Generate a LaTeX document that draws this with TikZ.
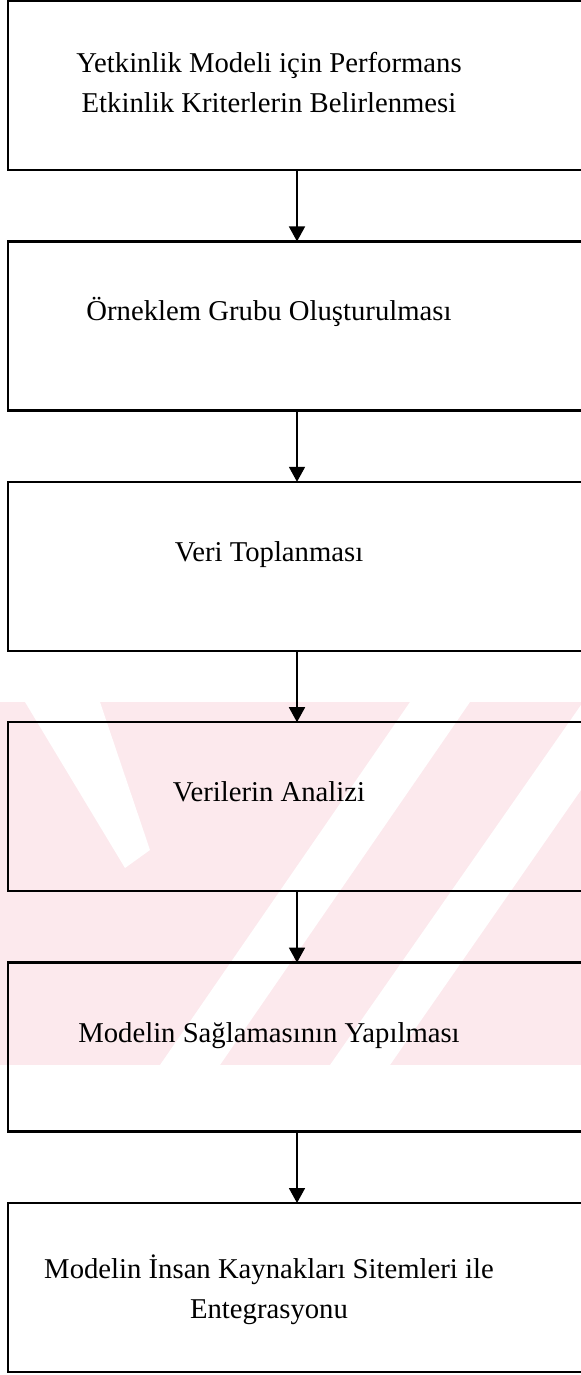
\documentclass[tikz,border=0pt]{standalone}
\usepackage{fontspec}
\setmainfont{Liberation Serif}
\usetikzlibrary{arrows.meta,positioning}

\definecolor{wmpink}{RGB}{252,233,237}

\begin{document}
\begin{tikzpicture}[x=0.5pt,y=-0.5pt,>={Triangle[width=8pt,length=7.5pt]}]
    \tikzset{stepbox/.style= {draw, rectangle, line width=1.2pt, minimum width=289pt, minimum height=84.5pt, inner sep=0pt, outer sep=0pt},
    steptext/.style={align=center, anchor=north, inner sep=0pt, execute at begin node=\strut, font=\fontsize{14.35pt}{20pt}\selectfont},
    }
    \useasboundingbox (0,0) rectangle (581,1375);
    %% faint stripes behind the lower boxes
    \fill[wmpink] (0,702) rectangle (581,1065);
    \fill[white] (25,702) -- (100,702) -- (150,850) -- (125,868) -- cycle;
    \fill[white] (160,1065) -- (220,1065) -- (470,702) -- (410,702) -- cycle;
    \fill[white] (330,1065) -- (390,1065) -- (581,790) -- (581,705) -- cycle;

    \node [stepbox] (criteria) at (297,85.5) {};
    \node [stepbox, below=35.7pt of criteria] (sample) {};
    \node [stepbox, below=35.7pt of sample] (collect) {};
    \node [stepbox, below=35.7pt of collect] (analysis) {};
    \node [stepbox, below=35.7pt of analysis] (check) {};
    \node [stepbox, below=35.7pt of check] (integrate) {};

    %% texts sit near the top of each box
    \node [steptext] (criteriatext) at ([xshift=-14pt,yshift=-25.5pt]criteria.north) {Yetkinlik Modeli için Performans\\Etkinlik Kriterlerin Belirlenmesi};
    \node [steptext] (sampletext) at ([xshift=-14pt,yshift=-25.5pt]sample.north) {Örneklem Grubu Oluşturulması};
    \node [steptext] (collecttext) at ([xshift=-14pt,yshift=-25.5pt]collect.north) {Veri Toplanması};
    \node [steptext] (analysistext) at ([xshift=-14pt,yshift=-25.5pt]analysis.north) {Verilerin Analizi};
    \node [steptext] (checktext) at ([xshift=-14pt,yshift=-25.5pt]check.north) {Modelin Sağlamasının Yapılması};
    \node [steptext] (integratetext) at ([xshift=-14pt,yshift=-25.5pt]integrate.north) {Modelin İnsan Kaynakları Sitemleri ile\\Entegrasyonu};

% paths
    \path[draw,->, line width=0.9pt]
                (criteria) edge (sample)
                (sample) edge (collect)
                (collect) edge (analysis)
                (analysis) edge (check)
                (check) edge (integrate)
                ;
\end{tikzpicture}
\end{document}
